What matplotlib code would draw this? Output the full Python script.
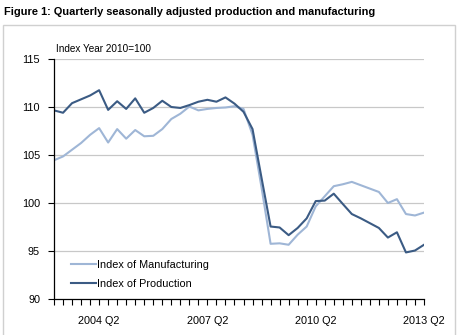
import matplotlib.pyplot as plt
from matplotlib.patches import Rectangle

# quarterly index, 2003 Q1 .. 2013 Q2
production = [109.65, 109.4, 110.4, 110.8, 111.2, 111.75, 109.7, 110.6, 109.8, 110.9,
              109.4, 109.9, 110.65, 110.0, 109.9, 110.2, 110.55, 110.75, 110.55, 111.0,
              110.35, 109.5, 107.7, 102.6, 97.55, 97.45, 96.65, 97.4, 98.4, 100.2,
              100.25, 100.97, 99.9, 98.85, 98.4, 97.9, 97.4, 96.4, 96.95, 94.85,
              95.05, 95.65]
manufacturing = [104.45, 104.85, 105.55, 106.25, 107.1, 107.8, 106.3, 107.7, 106.7, 107.6,
                 106.95, 107.0, 107.7, 108.75, 109.3, 110.05, 109.65, 109.8, 109.9, 109.95,
                 110.08, 109.8, 107.1, 101.6, 95.75, 95.8, 95.65, 96.7, 97.55, 99.65,
                 100.7, 101.75, 101.95, 102.2, 101.85, 101.5, 101.15, 100.0, 100.4, 98.85,
                 98.7, 99.0]
label_idx = [5, 17, 29, 41]
label_txt = ['2004 Q2', '2007 Q2', '2010 Q2', '2013 Q2']

plt.rcParams['font.family'] = ['Liberation Sans', 'DejaVu Sans']

fig = plt.figure(figsize=(4.6, 3.35), dpi=100)
fig.text(0.009, 0.963, 'Figure 1: Quarterly seasonally adjusted production and manufacturing',
         fontsize=7.95, fontweight='bold', va='center', ha='left')
fig.patches.append(Rectangle((3 / 460, -0.05), 452 / 460, 1 - 25 / 335 + 0.05,
                             transform=fig.transFigure, fill=False,
                             edgecolor='#d0d0d0', lw=1))

ax = fig.add_axes([54 / 460, 1 - 299 / 335, 370 / 460, 240 / 335])
x = list(range(len(production)))
ax.plot(x, manufacturing, color='#9fb6d6', lw=1.5, label='Index of Manufacturing')
ax.plot(x, production, color='#3b5b84', lw=1.5, label='Index of Production')

ax.set_xlim(0, len(production) - 1)
ax.set_ylim(90, 115)
ax.set_yticks([90, 95, 100, 105, 110, 115])
for v in [95, 100, 105, 110, 115]:
    ax.axhline(v, color='#c8c8c8', lw=0.9, zorder=0)
ax.set_xticks(x, minor=True)
ax.set_xticks(label_idx)
ax.set_xticklabels(label_txt)
ax.tick_params(axis='x', which='both', length=4, direction='out', width=0.8, labelsize=7.8, pad=8)
ax.tick_params(axis='y', length=4, direction='out', width=0.8, labelsize=7.8, pad=6)
for s in ['top', 'right']:
    ax.spines[s].set_visible(False)
for s in ['left', 'bottom']:
    ax.spines[s].set_linewidth(0.9)

ax.text(0.005, 1.02, 'Index Year 2010=100', transform=ax.transAxes, fontsize=7.2, va='bottom')
ax.legend(loc='lower left', frameon=False, fontsize=7.8, handlelength=2.3,
          handletextpad=0.1, labelspacing=0.9, bbox_to_anchor=(0.02, 0.0))

fig.savefig('out.png', dpi=100)
